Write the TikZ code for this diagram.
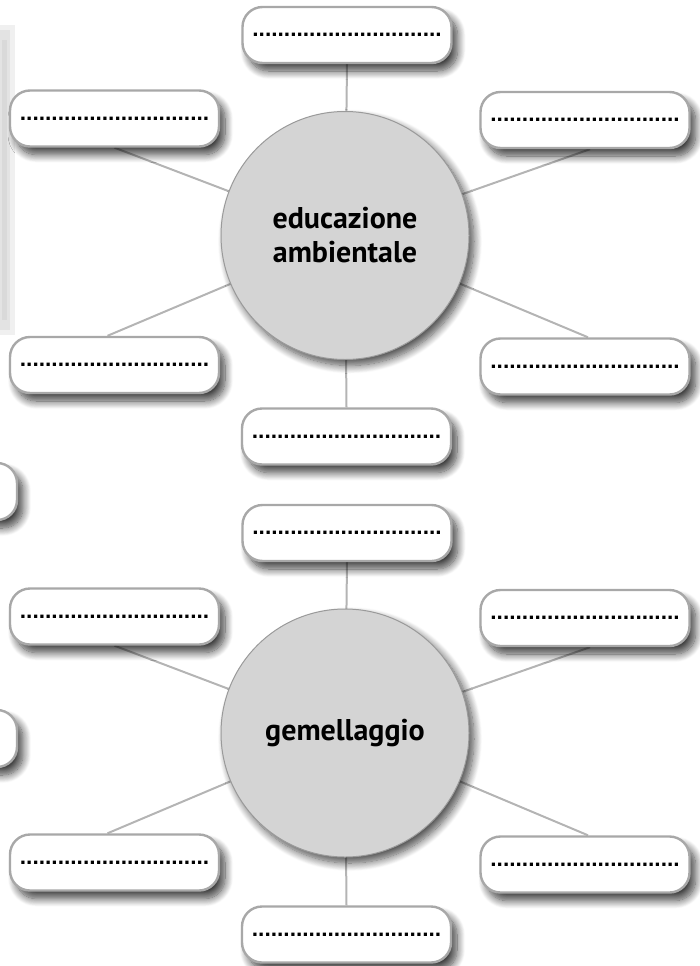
\documentclass[tikz,border=0pt]{standalone}
\usepackage{fontspec}
\setmainfont{PT Sans}
\newfontfamily\dotfont{Liberation Sans}
\usetikzlibrary{shadows.blur}
\pgfdeclarelayer{bg}
\pgfsetlayers{bg,main}
\definecolor{boxline}{HTML}{A8A8A8}
\definecolor{hubfill}{HTML}{D4D4D4}
\definecolor{hubline}{HTML}{9A9A9A}
\definecolor{linkcol}{HTML}{B4B4B4}
\tikzset{
  softshadow/.style={blur shadow={shadow xshift=6pt, shadow yshift=-8pt, shadow blur radius=8pt,
      shadow blur steps=12, shadow opacity=75}},
  blank/.style={draw=boxline, line width=2.4pt, fill=white, rounded corners=20pt,
    minimum width=209pt, minimum height=56pt, inner sep=0pt,
    font=\dotfont\bfseries\fontsize{22.7}{24}\selectfont, softshadow},
  hub/.style={circle, draw=hubline, line width=1pt, fill=hubfill, minimum size=248pt,
    inner sep=0pt, align=center,
    font=\bfseries\fontsize{30}{34}\selectfont,
    blur shadow={shadow xshift=5pt, shadow yshift=-6pt, shadow blur radius=8pt,
      shadow blur steps=12, shadow opacity=70}},
  link/.style={draw=linkcol, line width=2pt},
  stub/.style={draw=boxline, line width=2.4pt, fill=white, rounded corners=20pt, softshadow}
}
\newcommand{\dotrow}{..............................}
\begin{document}
\begin{tikzpicture}[x=1pt,y=-1pt]
\useasboundingbox (0,0) rectangle (699,966);
% cut-off pieces at the left edge
\fill[gray!12] (0,25) rectangle (15,335);
\fill[gray!22] (0,30) rectangle (10,330);
\fill[gray!30] (2,40) rectangle (7,320);
\path[stub] (-200,463) rectangle (17,520);
\path[stub] (-200,710) rectangle (17,767);
% diagram 1
\node[hub] (c1) at (345,235.5) {educazione\\ambientale};
\node[blank] (a1) at (347,35) {\dotrow};
\node[blank] (a2) at (114.5,118.5) {\dotrow};
\node[blank] (a3) at (585,120) {\dotrow};
\node[blank] (a4) at (114.5,365) {\dotrow};
\node[blank] (a5) at (585,366.5) {\dotrow};
\node[blank] (a6) at (346.5,436.5) {\dotrow};
% diagram 2
\node[hub] (c2) at (345,733) {gemellaggio};
\node[blank] (b1) at (347,533) {\dotrow};
\node[blank] (b2) at (114.5,616.5) {\dotrow};
\node[blank] (b3) at (585,618) {\dotrow};
\node[blank] (b4) at (114.5,862.5) {\dotrow};
\node[blank] (b5) at (585,864.5) {\dotrow};
\node[blank] (b6) at (346.5,934.5) {\dotrow};
\begin{pgfonlayer}{bg}
\draw[link] (c1.center) -- (a1.south);
\draw[link] (c1.center) -- (a2.south);
\draw[link] (c1.center) -- ([xshift=5pt]a3.south);
\draw[link] (c1.center) -- ([xshift=-7pt]a4.north);
\draw[link] (c1.center) -- ([xshift=3pt]a5.north);
\draw[link] (c1.center) -- (a6.north);
\draw[link] (c2.center) -- (b1.south);
\draw[link] (c2.center) -- (b2.south);
\draw[link] (c2.center) -- ([xshift=5pt]b3.south);
\draw[link] (c2.center) -- ([xshift=-7pt]b4.north);
\draw[link] (c2.center) -- ([xshift=3pt]b5.north);
\draw[link] (c2.center) -- (b6.north);
\end{pgfonlayer}
\end{tikzpicture}
\end{document}
